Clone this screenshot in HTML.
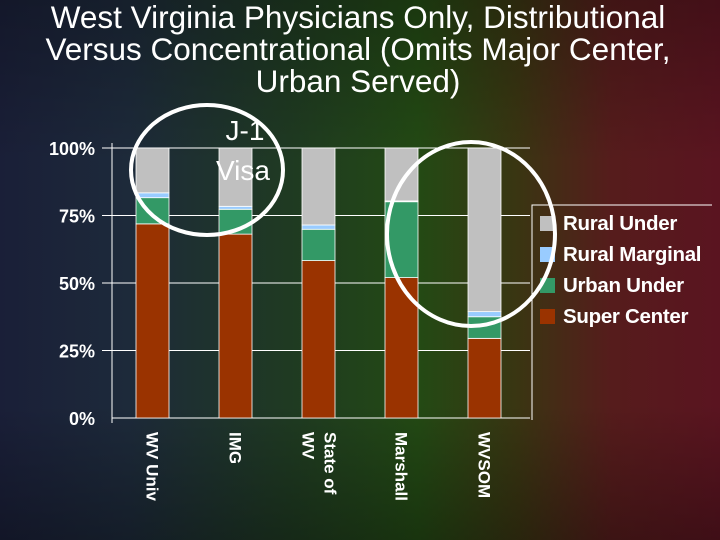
<!DOCTYPE html>
<html><head><meta charset="utf-8"><style>
body{margin:0;width:720px;height:540px;overflow:hidden;font-family:"Liberation Sans",sans-serif;}
#bg{position:absolute;left:0;top:0;width:720px;height:540px;background:linear-gradient(90deg,#1a1f38 0%,#1d2a3a 18%,#1f3a22 40%,#234a14 58%,#3a3512 72%,#561c1c 85%,#5a1420 100%);}
#bg2{position:absolute;left:0;top:0;width:720px;height:540px;background:linear-gradient(180deg,rgba(0,0,0,0.25),rgba(0,0,0,0) 30%,rgba(0,0,0,0) 75%,rgba(0,0,0,0.3));}
.title{position:absolute;left:0px;width:716px;text-align:center;color:#fff;font-size:31.5px;line-height:32px;top:1px;}
</style></head><body>
<div id="bg"></div>
<div id="bg2"></div>
<div class="title">West Virginia Physicians Only, Distributional<br>Versus Concentrational (Omits Major Center,<br>Urban Served)</div>
<svg id="chart" width="720" height="540" style="position:absolute;left:0;top:0"></svg>
<script>
const categories=["WV Univ","IMG","State of WV","Marshall","WVSOM"];
const catLines=[["WV Univ"],["IMG"],["State of","WV"],["Marshall"],["WVSOM"]];
const superCenter=[71.9,68.1,58.3,52.0,29.5];
const urbanUnder=[9.7,9.2,11.6,28.1,8.0];
const ruralMarginal=[1.8,1.1,1.6,0.3,1.9];
const ruralUnder=[16.6,21.6,28.5,19.6,60.6];
const yTicks=[0,25,50,75,100];
const yTickLabels=["0%","25%","50%","75%","100%"];
const seriesNames=["Rural Under","Rural Marginal","Urban Under","Super Center"];
const colors={"Super Center":"#9a3300","Urban Under":"#339966","Rural Marginal":"#99ccff","Rural Under":"#c0c0c0"};
const NS="http://www.w3.org/2000/svg";
const svg=document.getElementById('chart');
const y0=418,y1=148,xL=112,xR=530,bx0=136,bstep=83,bw=33;
const yS=v=>y0-(v/100)*(y0-y1);
const xS=i=>bx0+i*bstep;
function mk(t,a){const e=document.createElementNS(NS,t);for(const k in a)e.setAttribute(k,a[k]);svg.appendChild(e);return e;}
yTicks.forEach((t,i)=>{
  const l=mk('line',{x1:xL-100,x2:xR,y1:yS(t),y2:yS(t),stroke:'#fff','stroke-width':1});
  l.setAttribute('x1',i==0?xL:xL-10);
  
  
  const tx=mk('text',{x:95,y:yS(t)+7,'text-anchor':'end',fill:'#fff','font-size':18,'font-weight':'bold'});
  tx.textContent=yTickLabels[i];
  
  
});
const ax=mk('line',{x1:xL,x2:xL,y1:y1-5,y2:y0+5,stroke:'#fff','stroke-width':1});


categories.forEach((c,i)=>{
  let base=0;
  [["Super Center",superCenter],["Urban Under",urbanUnder],["Rural Marginal",ruralMarginal],["Rural Under",ruralUnder]].forEach(([n,arr])=>{
    const v=arr[i];
    const r=mk('rect',{x:xS(i),y:yS(base+v),width:bw,height:yS(base)-yS(base+v),fill:colors[n],stroke:'#fff','stroke-width':0.8});
    
    
    base+=v;
  });
  const lines=catLines[i];
  const g=mk('text',{transform:`translate(${xS(i)+bw/2-6+(lines.length-1)*12},432) rotate(90)`,fill:'#fff','font-size':17,'font-weight':'bold'});
  
  
  lines.forEach((s,j)=>{const ts=document.createElementNS(NS,'tspan');ts.setAttribute('x',0);ts.setAttribute('dy',j==0?0:22);ts.textContent=s;g.appendChild(ts);});
});
const lb=mk('path',{d:'M532 420 L532 205 L712 205',stroke:'#fff','stroke-width':1,fill:'none'});


seriesNames.forEach((n,i)=>{
  const cy=223+i*31;
  const r=mk('rect',{x:540,y:cy-7,width:15,height:15,fill:colors[n]});
  
  
  const t=mk('text',{x:563,y:cy+7,fill:'#fff','font-size':20.5,'font-weight':'bold','letter-spacing':'-0.3'});
  t.textContent=n;
  
  
});
const e1=mk('ellipse',{cx:207,cy:170,rx:76,ry:65,fill:'none',stroke:'#fff','stroke-width':4});


const e2=mk('ellipse',{cx:471,cy:234,rx:84,ry:92,fill:'none',stroke:'#fff','stroke-width':4});


const a=mk('text',{x:245,y:140,'text-anchor':'middle',fill:'#fff','font-size':28});
a.textContent='J-1';


const b=mk('text',{x:243,y:180,'text-anchor':'middle',fill:'#fff','font-size':28});
b.textContent='Visa';


</script>
</body></html>
